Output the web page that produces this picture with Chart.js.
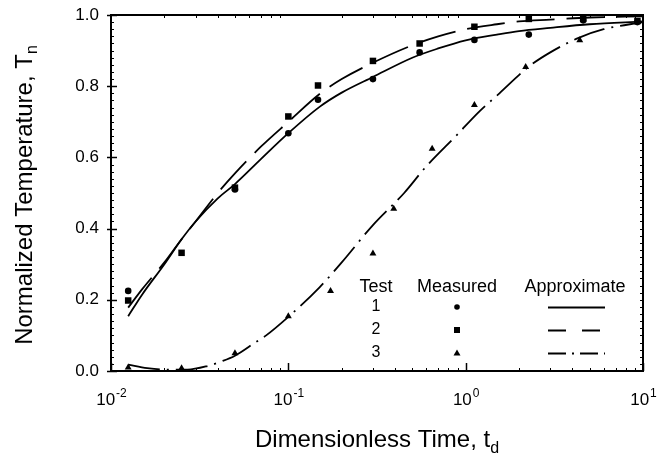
<!DOCTYPE html>
<html>
<head>
<meta charset="utf-8">
<script src="https://cdn.jsdelivr.net/npm/chart.js@4.4.1/dist/chart.umd.min.js"></script>
<style>
  html, body { margin: 0; padding: 0; background: #fff; }
  #wrap { width: 669px; height: 455px; }
</style>
</head>
<body>
<div id="wrap"><canvas id="myChart"></canvas></div>
<script>
// measured points
const time1 = [0.0125, 0.05, 0.1, 0.147, 0.3, 0.55, 1.12, 2.27, 4.6, 9.3];
const temp1 = [0.225, 0.51, 0.668, 0.762, 0.82, 0.895, 0.93, 0.945, 0.985, 0.98];
const time2 = [0.0125, 0.025, 0.05, 0.1, 0.147, 0.3, 0.55, 1.12, 2.27, 4.6, 9.3];
const temp2 = [0.198, 0.332, 0.515, 0.715, 0.802, 0.871, 0.92, 0.967, 0.989, 0.989, 0.983];
const time3 = [0.0125, 0.025, 0.05, 0.1, 0.173, 0.3, 0.393, 0.647, 1.12, 2.18, 4.4, 9.3];
const temp3 = [0.01, 0.008, 0.05, 0.154, 0.225, 0.33, 0.456, 0.624, 0.747, 0.854, 0.929, 0.98];

// approximate curves
const curveTime1 = [0.0125, 0.015, 0.02, 0.025, 0.03, 0.04, 0.05, 0.07, 0.1, 0.15, 0.2, 0.3, 0.5, 0.7, 1, 1.5, 2, 3, 5, 10];
const curveTemp1 = [0.154, 0.215, 0.30, 0.37, 0.42, 0.485, 0.525, 0.595, 0.668, 0.742, 0.782, 0.826, 0.88, 0.906, 0.929, 0.945, 0.955, 0.964, 0.974, 0.982];
const curveTime2 = [0.0125, 0.015, 0.02, 0.025, 0.03, 0.04, 0.05, 0.07, 0.1, 0.15, 0.2, 0.3, 0.5, 0.7, 1, 1.5, 2, 3, 5, 10];
const curveTemp2 = [0.178, 0.23, 0.305, 0.37, 0.42, 0.50, 0.555, 0.63, 0.70, 0.778, 0.82, 0.866, 0.915, 0.94, 0.96, 0.974, 0.982, 0.987, 0.993, 0.996];
const curveTime3 = [0.0125, 0.016, 0.02, 0.027, 0.035, 0.042, 0.05, 0.065, 0.075, 0.1, 0.15, 0.2, 0.3, 0.45, 0.6, 0.88, 1.2, 1.55, 2.27, 3, 4.3, 6, 10];
const curveTemp3 = [0.018, 0.008, 0.004, 0.004, 0.014, 0.027, 0.043, 0.08, 0.10, 0.152, 0.235, 0.305, 0.41, 0.50, 0.575, 0.66, 0.73, 0.78, 0.855, 0.895, 0.935, 0.96, 0.98];

const yTicks = [0, 0.2, 0.4, 0.6, 0.8, 1.0];
const xTicks = [0.01, 0.1, 1, 10];
const xTickExp = ["-2", "-1", "0", "1"];

const legendTests = ["1", "2", "3"];

const FONT = "'Liberation Sans', Arial, sans-serif";

function pairs(xs, ys) {
  return xs.map((x, i) => ({ x: x, y: ys[i] }));
}

const frame = {
  id: "frame",
  afterDraw(chart) {
    const c = chart.ctx;
    const a = chart.chartArea;
    const xs = chart.scales.x;
    const ys = chart.scales.y;
    c.save();
    c.strokeStyle = "#000";
    c.fillStyle = "#000";
    c.lineWidth = 2;
    c.strokeRect(a.left, a.top, a.right - a.left, a.bottom - a.top);

    // y ticks
    c.lineWidth = 1.5;
    for (const v of yTicks) {
      const y = Math.round(ys.getPixelForValue(v)) + 0.5;
      c.beginPath();
      c.moveTo(a.left - 4, y);
      c.lineTo(a.left + 6, y);
      c.stroke();
    }
    c.lineWidth = 1;
    for (let i = 1; i < 50; i++) {
      const y = Math.round(ys.getPixelForValue(i / 50)) + 0.5;
      c.beginPath();
      c.moveTo(a.left, y);
      c.lineTo(a.left + 3, y);
      c.moveTo(a.right, y);
      c.lineTo(a.right - 3, y);
      c.stroke();
    }
    // x ticks
    c.lineWidth = 1.5;
    for (const v of xTicks) {
      const x = Math.round(xs.getPixelForValue(v)) + 0.5;
      c.beginPath();
      c.moveTo(x, a.bottom);
      c.lineTo(x, a.bottom - 8);
      c.stroke();
    }
    c.lineWidth = 1;
    for (let d = 0.01; d < 10; d *= 10) {
      for (let k = 2; k < 10; k++) {
        const x = Math.round(xs.getPixelForValue(d * k)) + 0.5;
        c.beginPath();
        c.moveTo(x, a.bottom);
        c.lineTo(x, a.bottom - 3);
        c.moveTo(x, a.top);
        c.lineTo(x, a.top + 3);
        c.stroke();
      }
    }

    // tick labels
    c.font = "17px " + FONT;
    c.textAlign = "right";
    c.textBaseline = "middle";
    for (const v of yTicks) {
      c.fillText(v.toFixed(1), a.left - 12, ys.getPixelForValue(v));
    }
    c.textBaseline = "alphabetic";
    c.textAlign = "left";
    xTicks.forEach((v, i) => {
      c.font = "17px " + FONT;
      const w1 = c.measureText("10").width;
      c.font = "12px " + FONT;
      const w2 = c.measureText(xTickExp[i]).width;
      const x0 = xs.getPixelForValue(v) - (w1 + w2) / 2;
      c.font = "17px " + FONT;
      c.fillText("10", x0, 405);
      c.font = "12px " + FONT;
      c.fillText(xTickExp[i], x0 + w1 + 1, 397);
    });

    // axis titles
    const xt = "Dimensionless Time, t";
    c.font = "24px " + FONT;
    const xw = c.measureText(xt).width;
    c.font = "16px " + FONT;
    const xsw = c.measureText("d").width;
    const xc = (a.left + a.right) / 2;
    c.font = "24px " + FONT;
    c.fillText(xt, xc - (xw + xsw) / 2, 447);
    c.font = "16px " + FONT;
    c.fillText("d", xc - (xw + xsw) / 2 + xw, 453);

    const yt = "Normalized Temperature, T";
    c.save();
    c.translate(32, (a.top + a.bottom) / 2 + 2);
    c.rotate(-Math.PI / 2);
    c.font = "24px " + FONT;
    const yw = c.measureText(yt).width;
    c.font = "16px " + FONT;
    const ysw = c.measureText("n").width;
    c.font = "24px " + FONT;
    c.fillText(yt, -(yw + ysw) / 2, 0);
    c.font = "16px " + FONT;
    c.fillText("n", -(yw + ysw) / 2 + yw, 5);
    c.restore();

    // legend
    c.font = "18px " + FONT;
    c.textAlign = "center";
    c.fillText("Test", 376, 292);
    c.fillText("Measured", 457, 292);
    c.fillText("Approximate", 575, 292);
    const rowsY = [307, 330, 353];
    const dashes = [[], [18, 16], [18, 6, 2, 6]];
    c.font = "16px " + FONT;
    c.textBaseline = "middle";
    rowsY.forEach((y, i) => {
      c.fillText(legendTests[i], 376, y);
      c.beginPath();
      if (i === 0) {
        c.arc(457, y, 2.8, 0, Math.PI * 2);
      } else if (i === 1) {
        c.rect(454, y - 3, 6, 6);
      } else {
        c.moveTo(457, y - 3.5);
        c.lineTo(460.5, y + 2.5);
        c.lineTo(453.5, y + 2.5);
        c.closePath();
      }
      c.fill();
      c.setLineDash(dashes[i]);
      c.lineWidth = 1.8;
      c.beginPath();
      c.moveTo(548, y + 0.5);
      c.lineTo(605, y + 0.5);
      c.stroke();
      c.setLineDash([]);
    });
    c.restore();
  }
};

const lineStyle = {
  showLine: true,
  pointRadius: 0,
  borderColor: "#000",
  borderWidth: 1.8,
  cubicInterpolationMode: "monotone",
  fill: false
};
const markStyle = {
  showLine: false,
  backgroundColor: "#000",
  borderColor: "#000",
  borderWidth: 0
};

new Chart(document.getElementById("myChart"), {
  type: "scatter",
  data: {
    datasets: [
      Object.assign({ label: "Approx 1", data: pairs(curveTime1, curveTemp1) }, lineStyle),
      Object.assign({ label: "Approx 2", data: pairs(curveTime2, curveTemp2), borderDash: [38, 12] }, lineStyle),
      Object.assign({ label: "Approx 3", data: pairs(curveTime3, curveTemp3), borderDash: [32, 7, 2, 7] }, lineStyle),
      Object.assign({ label: "Test 1", data: pairs(time1, temp1), pointStyle: "circle", pointRadius: 3.3 }, markStyle),
      Object.assign({ label: "Test 2", data: pairs(time2, temp2), pointStyle: "rect", pointRadius: 4.6 }, markStyle),
      Object.assign({ label: "Test 3", data: pairs(time3, temp3), pointStyle: "triangle", pointRadius: 4 }, markStyle)
    ]
  },
  options: {
    responsive: true,
    maintainAspectRatio: false,
    animation: false,
    events: [],
    layout: { padding: { left: 103, right: 26, top: 15, bottom: 76 } },
    plugins: { legend: { display: false }, tooltip: { enabled: false } },
    clip: false,
    scales: {
      x: {
        type: "logarithmic",
        min: 0.01,
        max: 10,
        ticks: { display: false },
        grid: { display: false },
        border: { display: false }
      },
      y: {
        min: 0,
        max: 1,
        ticks: { display: false },
        grid: { display: false },
        border: { display: false }
      }
    }
  },
  plugins: [frame]
});
</script>
</body>
</html>
